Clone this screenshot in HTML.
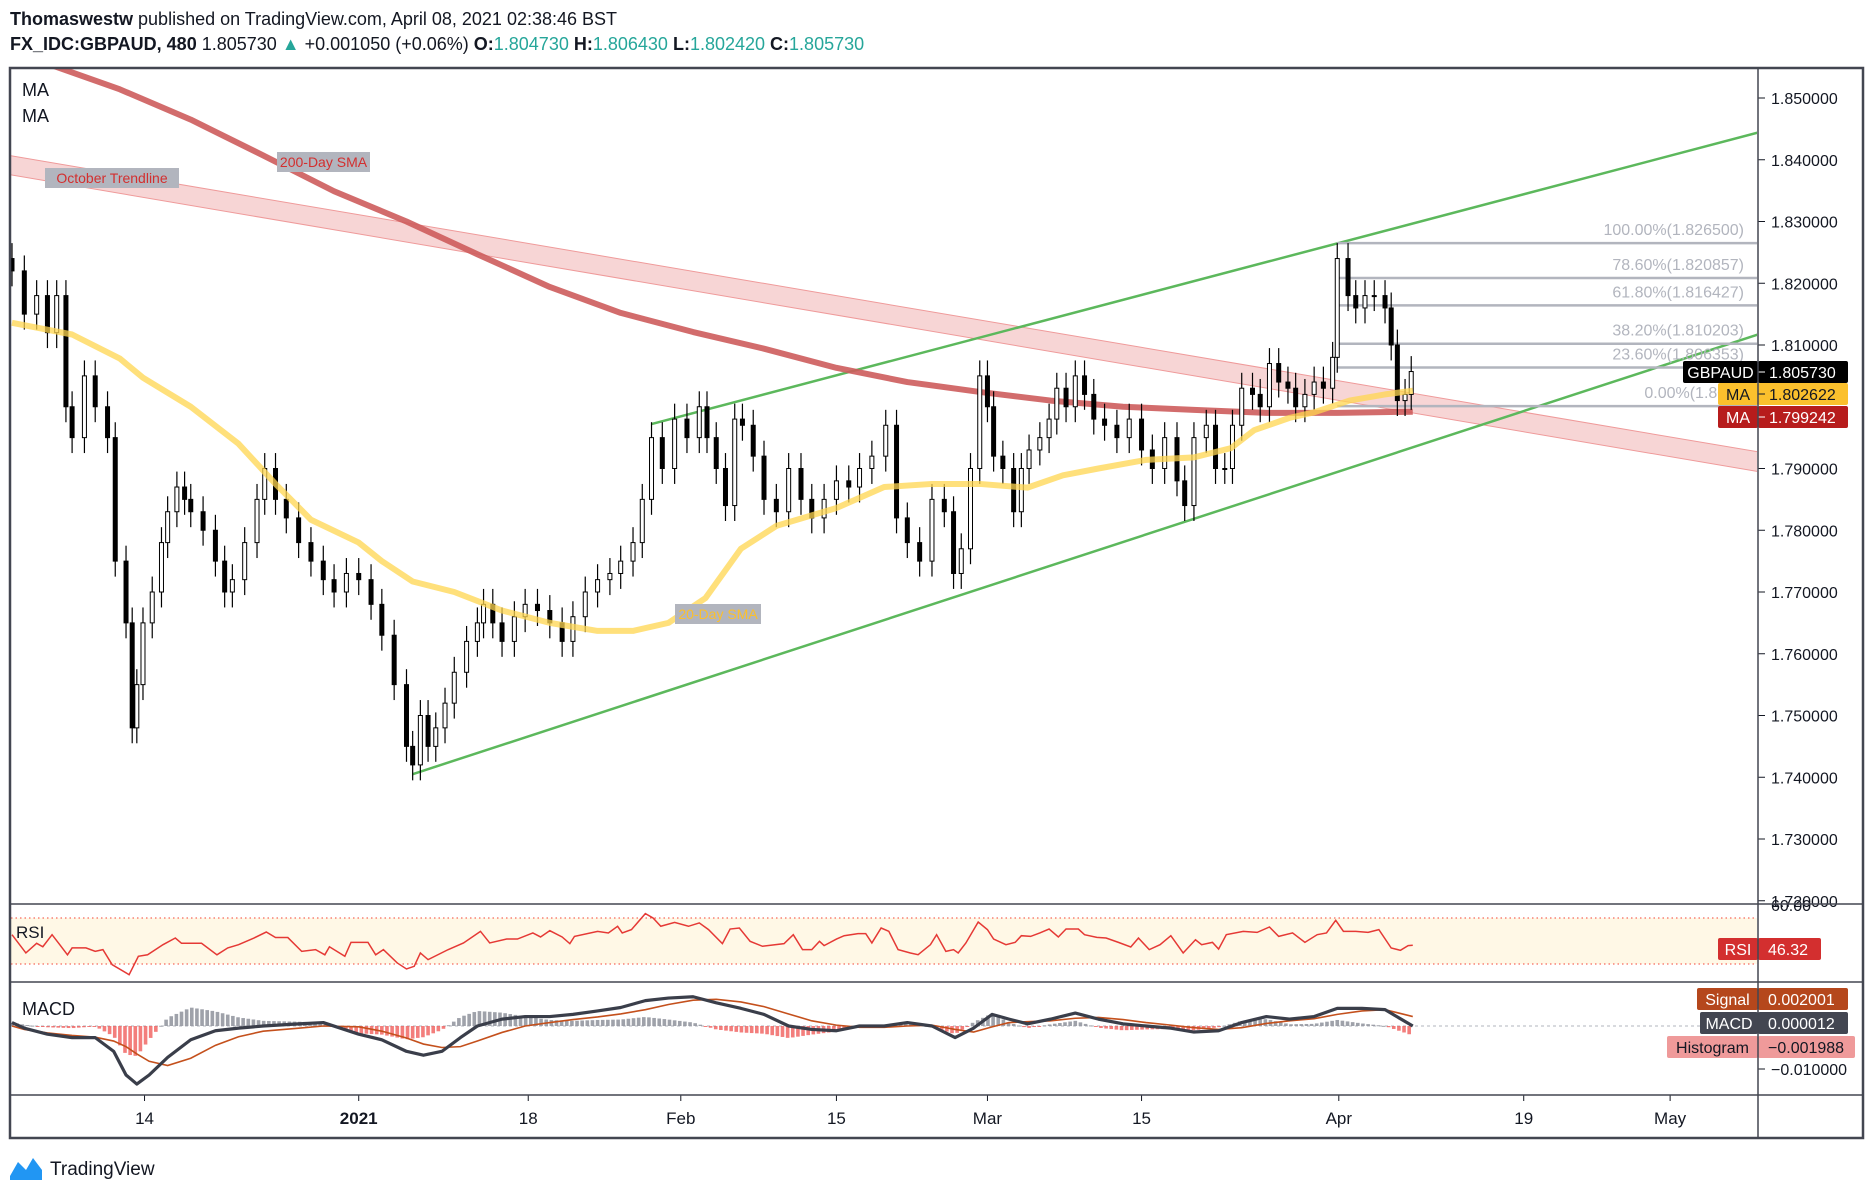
<!DOCTYPE html>
<html><head><meta charset="utf-8"><style>
html,body{margin:0;padding:0;background:#fff;}
svg{display:block;font-family:"Liberation Sans",sans-serif;}
</style></head><body>
<svg id="c" width="1873" height="1194" viewBox="0 0 1873 1194" xmlns="http://www.w3.org/2000/svg">
<rect x="0" y="0" width="1873" height="1194" fill="#fff"/>
<text x="10" y="25" font-size="18" fill="#131722"><tspan font-weight="bold">Thomaswestw</tspan> published on TradingView.com, April 08, 2021 02:38:46 BST</text>
<text x="10" y="50" font-size="18" fill="#131722"><tspan font-weight="bold">FX_IDC:GBPAUD, 480</tspan> 1.805730 <tspan fill="#26a69a">▲</tspan> +0.001050 (+0.06%) <tspan font-weight="bold">O:</tspan><tspan fill="#26a69a">1.804730</tspan> <tspan font-weight="bold">H:</tspan><tspan fill="#26a69a">1.806430</tspan> <tspan font-weight="bold">L:</tspan><tspan fill="#26a69a">1.802420</tspan> <tspan font-weight="bold">C:</tspan><tspan fill="#26a69a">1.805730</tspan></text>
<defs><clipPath id="mainClip"><rect x="11" y="69" width="1746" height="834"/></clipPath>
<clipPath id="rsiClip"><rect x="11" y="905" width="1746" height="76"/></clipPath>
<clipPath id="macdClip"><rect x="11" y="983" width="1746" height="111"/></clipPath></defs>
<g id="main" clip-path="url(#mainClip)"></g>
<g id="rsi" clip-path="url(#rsiClip)"></g>
<g id="macd" clip-path="url(#macdClip)"></g>
<g id="axes"></g>
<rect x="10" y="68" width="1853" height="1070" fill="none" stroke="#434651" stroke-width="2.5"/>
<line x1="1758" y1="68" x2="1758" y2="1138" stroke="#434651" stroke-width="1.5"/>
<line x1="10" y1="904" x2="1863" y2="904" stroke="#434651" stroke-width="1.5"/>
<line x1="10" y1="982" x2="1863" y2="982" stroke="#434651" stroke-width="1.5"/>
<line x1="10" y1="1095" x2="1863" y2="1095" stroke="#434651" stroke-width="1.5"/>
<text x="22" y="96" font-size="18" fill="#131722">MA</text>
<text x="22" y="122" font-size="18" fill="#131722">MA</text>
<text x="16" y="938" font-size="17" fill="#131722">RSI</text>
<text x="22" y="1015" font-size="18" fill="#131722">MACD</text>
<g>
<path d="M10 1176 L18 1162 L26 1170 L33 1158 L42 1170 L42 1180 L10 1180 Z" fill="#2196f3"/>
<text x="50" y="1175" font-size="19" fill="#131722">TradingView</text>
</g>
</svg>
<script>
// ---- data ----
const candleDay=[0,0.8,1.6,2.3,2.9,3.5,3.9,4.7,5.4,6.2,6.7,7.4,7.8,8.1,8.5,9.1,9.7,10.1,10.7,11.2,11.6,12.4,13.2,13.8,14.3,15.1,15.9,16.4,17.1,17.8,18.6,19.4,20.2,20.9,21.7,22.5,23.3,24.0,24.8,25.6,26.0,26.5,27.0,27.5,28.1,28.7,29.5,30.2,30.6,31.2,31.8,32.6,33.3,34.1,34.9,35.7,36.4,37.2,38.0,38.8,39.5,40.3,40.9,41.5,42.2,43.0,43.8,44.6,45.1,45.7,46.3,46.9,47.4,48.1,48.8,49.6,50.4,51.2,51.9,52.7,53.5,54.3,55.0,55.8,56.7,57.4,58.1,58.9,59.7,60.5,61.1,61.6,62.2,62.8,63.3,63.7,64.3,65.0,65.5,66.0,66.7,67.3,67.8,68.4,69.0,69.6,70.2,70.9,71.7,72.5,73.3,74.0,74.8,75.6,76.1,76.7,77.5,78.1,78.7,79.2,79.8,80.5,81.0,81.6,82.2,82.8,83.3,83.9,84.5,85.1,85.7,86.0,86.7,87.2,87.8,88.4,89.1,89.5,89.9,90.4,90.8];
const candleClose=[1.822,1.815,1.818,1.812,1.818,1.800,1.795,1.805,1.800,1.795,1.775,1.765,1.748,1.755,1.765,1.770,1.778,1.783,1.787,1.785,1.783,1.780,1.775,1.770,1.772,1.778,1.785,1.790,1.785,1.782,1.778,1.775,1.772,1.770,1.773,1.772,1.768,1.763,1.755,1.745,1.742,1.750,1.745,1.748,1.752,1.757,1.762,1.765,1.768,1.765,1.762,1.766,1.768,1.767,1.765,1.762,1.766,1.770,1.772,1.773,1.775,1.778,1.785,1.795,1.790,1.798,1.795,1.800,1.795,1.790,1.784,1.798,1.797,1.792,1.785,1.783,1.790,1.785,1.782,1.785,1.788,1.787,1.790,1.792,1.797,1.782,1.778,1.775,1.785,1.783,1.773,1.777,1.790,1.805,1.800,1.792,1.790,1.783,1.790,1.793,1.795,1.798,1.803,1.800,1.805,1.802,1.798,1.797,1.795,1.798,1.793,1.790,1.795,1.788,1.784,1.795,1.797,1.790,1.790,1.797,1.803,1.802,1.800,1.807,1.804,1.803,1.800,1.802,1.804,1.803,1.808,1.824,1.818,1.816,1.818,1.818,1.816,1.810,1.801,1.802,1.8057];
const sma20Day=[0,3.9,7.0,8.5,11.6,14.7,17.1,19.4,22.5,24.0,26.0,28.7,31.8,34.9,38.0,40.3,42.6,45.0,47.3,49.6,53.5,56.6,59.7,62.8,65.9,68.2,70.5,73.6,76.7,79.1,80.6,82.9,84.5,86.8,89.1,90.9];
const sma20Val=[1.8136,1.8117,1.8078,1.8047,1.800,1.794,1.7875,1.7817,1.778,1.775,1.7717,1.770,1.767,1.765,1.7637,1.7637,1.765,1.769,1.777,1.7807,1.7836,1.787,1.7875,1.7875,1.7869,1.7889,1.790,1.7914,1.7918,1.7933,1.7962,1.7982,1.7991,1.801,1.802,1.8026];
const sma200Day=[-2,2.7,7.0,11.6,16.3,20.9,25.6,30.2,34.9,39.5,44.2,48.8,53.5,58.1,62.8,67.4,72.1,76.7,81.4,86.0,90.9];
const sma200Val=[1.860,1.8552,1.8514,1.8465,1.8407,1.8349,1.830,1.8247,1.8194,1.8152,1.8121,1.8094,1.8063,1.804,1.8024,1.801,1.800,1.7995,1.799,1.799,1.7992];
const fibLevels=[1.8265,1.820857,1.816427,1.810203,1.806353,1.8001];
const fibLabels=["100.00%(1.826500)","78.60%(1.820857)","61.80%(1.816427)","38.20%(1.810203)","23.60%(1.806353)","0.00%(1.8001"];
const priceTicks=[1.85,1.84,1.83,1.82,1.81,1.79,1.78,1.77,1.76,1.75,1.74,1.73,1.72];
const timeTickDay=[8.6,22.5,33.5,43.4,53.5,63.3,73.3,86.1,98.1,107.6];
const timeTickLabel=["14","2021","18","Feb","15","Mar","15","Apr","19","May"];
const rsiDay=[0,0.9,1.6,2.0,2.6,3.1,3.6,3.9,4.8,5.4,5.9,6.5,7.6,8.2,8.8,9.8,10.6,11.0,12.3,13.3,14.0,14.7,15.7,16.5,17.1,17.9,18.8,19.7,20.3,20.6,21.6,22.0,23.1,23.6,24.1,25.0,25.6,26.1,26.5,27.0,28.3,29.3,30.4,31.0,32.1,32.8,33.8,34.3,34.9,35.7,36.2,36.5,38.0,38.7,39.3,39.6,40.2,41.1,41.6,42.1,43.0,43.9,44.6,45.2,46.1,46.6,47.2,47.9,48.7,50.1,50.7,51.3,51.9,52.4,52.7,53.5,54.0,54.9,55.4,55.8,56.4,56.9,57.5,58.3,58.8,59.6,60.0,60.6,61.1,61.4,61.9,62.7,63.3,63.7,64.5,65.1,65.5,66.1,66.7,67.3,67.9,68.4,69.2,69.6,70.4,71.0,71.8,72.6,73.1,73.8,74.5,75.2,76.0,76.8,77.2,77.9,78.3,78.8,79.9,80.8,81.6,82.2,83.1,83.9,84.7,85.3,85.9,86.4,87.2,88.0,88.7,89.5,90.1,90.6,90.9];
const rsiVal=[55.5,39.6,48,45,55.5,46.8,38,44,44,41,42.5,29.4,20.7,36.7,38,46.8,52.6,48,48,38,44,46.8,52.6,57.8,53,53,41,42.5,38,45,36.7,48.8,48.8,38,42.5,30.9,25.7,28,39.6,33.8,42.5,48.3,58.4,48.3,51.7,51.7,57,53.5,59,53.5,47.7,54,58.4,57,62.8,57,59.9,73.8,70,62.8,66.2,62.8,65.7,59.9,47.7,60.4,61.3,49.7,45.4,47.7,55.5,42.5,42.5,49.7,46,51.7,54.6,56.4,56.4,48.3,61.3,58.4,42.5,39.6,38.1,46.8,55.5,41,42.5,39.6,48.3,66.5,59.9,51.7,46.8,48.8,54.6,54,57,60.4,53.5,60.4,60.4,55.5,53.2,52.6,48.8,44.8,52.6,42.5,46.8,54.6,39.6,51.1,46.8,48.8,43,55.5,58.4,57.5,62.2,54,57,48.8,55.5,57,68,58.4,58.4,57.5,59.9,43.9,41.9,46,46.3];
const macdDay=[0,0.8,2.3,3.9,5.4,6.6,7.4,8.1,8.9,10.1,11.6,13.2,14.7,16.3,18.6,20.2,22.5,24.0,25.6,26.7,27.9,29.1,30.2,31.8,33.3,34.9,36.4,38.0,39.5,41.1,42.6,44.2,45.7,47.3,48.8,50.4,51.9,53.5,55.0,56.6,58.1,59.7,61.2,62.4,63.6,64.7,65.9,67.4,69.0,70.5,72.1,73.6,75.2,76.7,78.3,79.8,81.4,82.9,84.5,86.0,87.6,89.1,90.9];
const macdVal=[0.0008,-0.0005,-0.0019,-0.0027,-0.0027,-0.0059,-0.0114,-0.0135,-0.0114,-0.0073,-0.0032,-0.0011,-0.0005,0,0.0005,0.0008,-0.0019,-0.0032,-0.0059,-0.0068,-0.0059,-0.0027,0,0.0016,0.0022,0.0022,0.0027,0.0035,0.0043,0.0059,0.0065,0.0068,0.0054,0.0041,0.0027,0,-0.0008,-0.0011,0,0,0.0008,0,-0.0027,-0.0005,0.0027,0.0016,0.0005,0.0016,0.003,0.0016,0.0005,0,-0.0005,-0.0014,-0.0011,0.0008,0.0022,0.0016,0.0022,0.0041,0.0041,0.0038,0];
const signalVal=[0,-0.0008,-0.0016,-0.0022,-0.0026,-0.0035,-0.0048,-0.0065,-0.0082,-0.0092,-0.0075,-0.0045,-0.0025,-0.0012,-0.0005,0,-0.0002,-0.0012,-0.0028,-0.0042,-0.0050,-0.0048,-0.0035,-0.0015,0.0000,0.0008,0.0015,0.0021,0.0028,0.0038,0.0050,0.0060,0.0062,0.0056,0.0045,0.0028,0.0012,0.0002,-0.0003,-0.0003,0,0.0002,-0.0008,-0.0014,-0.0002,0.0008,0.0010,0.0012,0.0018,0.0020,0.0015,0.0008,0.0002,-0.0004,-0.0008,-0.0004,0.0006,0.0012,0.0017,0.0027,0.0035,0.0038,0.0022];

// ---- scales ----
const SVGNS="http://www.w3.org/2000/svg";
const xS=d=>12+d*15.41;
const yP=p=>98+(1.85-p)/0.01*61.75;
const yR=v=>964-(v-30)/40*46;
const yM=v=>1026-v/0.01*43;
function mk(parent,tag,attrs){const e=document.createElementNS(SVGNS,tag);for(const k in attrs)e.setAttribute(k,attrs[k]);parent.appendChild(e);return e;}
function interp(days,vals,d){if(d<=days[0])return vals[0];for(let i=1;i<days.length;i++){if(d<=days[i]){const t=(d-days[i-1])/(days[i]-days[i-1]);return vals[i-1]+t*(vals[i]-vals[i-1]);}}return vals[vals.length-1];}
const main=document.getElementById('main'),rsiG=document.getElementById('rsi'),macdG=document.getElementById('macd'),axes=document.getElementById('axes');

// trendline band
{const d0=-0.2,d1=113.3;
const band=mk(main,'polygon',{points:`${xS(d0)},${yP(1.8407)} ${xS(d1)},${yP(1.7927)} ${xS(d1)},${yP(1.7895)} ${xS(d0)},${yP(1.8376)}`,fill:'#e57373','fill-opacity':'0.3',stroke:'#ef9a9a','stroke-width':'1'});

}
// green channel
{const up=mk(main,'line',{x1:xS(41.5),y1:yP(1.7972),x2:xS(113.3),y2:yP(1.8444),stroke:'#5cb85c','stroke-width':'2.5'});


const lo=mk(main,'line',{x1:xS(26.0),y1:yP(1.7405),x2:xS(113.3),y2:yP(1.8117),stroke:'#5cb85c','stroke-width':'2.5'});

}
// fib
fibLevels.forEach((p,i)=>{
 const l=mk(main,'line',{x1:xS(86.0),y1:yP(p),x2:1758,y2:yP(p),stroke:'#b2b5be','stroke-width':'2.5'});
 
 
 const t=mk(main,'text',{x:1744,y:yP(p)-8,'text-anchor':'end','font-size':'16',fill:'#b2b5be'});
 t.textContent=fibLabels[i];
 
 
});
// 200 SMA
{const pts=sma200Day.map((d,i)=>xS(d)+','+yP(sma200Val[i])).join(' ');
const l=mk(main,'polyline',{points:pts,fill:'none',stroke:'#cd5c5c','stroke-width':'6','stroke-linejoin':'round','stroke-opacity':'0.9'});

}
// candles
candleClose.forEach((c,i)=>{
 const o=i>0?candleClose[i-1]:c+0.002;
 const x=xS(candleDay[i]);
 const hi=Math.max(o,c)+0.0025, lo=Math.min(o,c)-0.0025;
 const w=mk(main,'line',{x1:x,y1:yP(hi),x2:x,y2:yP(lo),stroke:'#000','stroke-width':'1.2'});
 
 
 const top=yP(Math.max(o,c)),h=Math.max(1,yP(Math.min(o,c))-top);
 const b=mk(main,'rect',{x:x-2,y:top,width:4,height:h,fill:c>=o?'#fff':'#000',stroke:'#000','stroke-width':'1'});
 
 
});
// 20 SMA
{const pts=sma20Day.map((d,i)=>xS(d)+','+yP(sma20Val[i])).join(' ');
const l=mk(main,'polyline',{points:pts,fill:'none',stroke:'#ffd54f','stroke-width':'6','stroke-linejoin':'round','stroke-opacity':'0.75'});

}
// annotation labels
function lbl(x,y,w,txt,col,name){const g=mk(main,'g',{});
 
 
 mk(g,'rect',{x:x,y:y,width:w,height:20,fill:'#b2b5be'});
 const t=mk(g,'text',{x:x+w/2,y:y+15,'text-anchor':'middle','font-size':'14',fill:col});t.textContent=txt;}
lbl(45,168,134,'October Trendline','#d32f2f','october-trendline-label');
lbl(277,152,93,'200-Day SMA','#d32f2f','sma-200-label');
lbl(675,604,86,'20-Day SMA','#fbc02d','sma-20-label');

// price axis
priceTicks.forEach(p=>{
 mk(axes,'line',{x1:1758,y1:yP(p),x2:1765,y2:yP(p),stroke:'#131722','stroke-width':'1'});
 const t=mk(axes,'text',{x:1771,y:yP(p)+6,'font-size':'16',fill:'#131722'});
 t.textContent=p.toFixed(6);
 
 
});
function axLabel(y,lw,ltxt,vtxt,bg,fg,name){const g=mk(axes,'g',{});
 
 
 mk(g,'rect',{x:1758-lw,y:y,width:lw,height:22,rx:2,fill:bg});
 mk(g,'rect',{x:1758,y:y,width:90,height:22,rx:2,fill:bg});
 mk(g,'line',{x1:1758,y1:y+11,x2:1765,y2:y+11,stroke:fg});
 const a=mk(g,'text',{x:1758-lw/2,y:y+17,'text-anchor':'middle','font-size':'16',fill:fg});a.textContent=ltxt;
 const b=mk(g,'text',{x:1769,y:y+17,'font-size':'16',fill:fg});b.textContent=vtxt;}
axLabel(361,75,'GBPAUD','1.805730','#000','#fff','last-price-label');
axLabel(383,40,'MA','1.802622','#fbc02d','#131722','sma-20-price-label');
axLabel(406,40,'MA','1.799242','#b71c1c','#fff','sma-200-price-label');

// time axis
timeTickDay.forEach((d,i)=>{
 mk(axes,'line',{x1:xS(d),y1:1095,x2:xS(d),y2:1101,stroke:'#131722'});
 const t=mk(axes,'text',{x:xS(d),y:1124,'text-anchor':'middle','font-size':'17',fill:'#131722','font-weight':timeTickLabel[i]==='2021'?'bold':'normal'});
 t.textContent=timeTickLabel[i];
 
 
});

// RSI
mk(rsiG,'rect',{x:11,y:yR(70),width:1746,height:yR(30)-yR(70),fill:'#fff8e6'});
mk(rsiG,'line',{x1:11,y1:yR(70),x2:1757,y2:yR(70),stroke:'#f44336','stroke-dasharray':'1.5 3','stroke-width':'1'});
mk(rsiG,'line',{x1:11,y1:yR(30),x2:1757,y2:yR(30),stroke:'#f44336','stroke-dasharray':'1.5 3','stroke-width':'1'});
{const l=mk(rsiG,'polyline',{points:rsiDay.map((d,i)=>xS(d)+','+yR(rsiVal[i])).join(' '),fill:'none',stroke:'#e53935','stroke-width':'1.5'});

}
{const t=mk(axes,'text',{x:1771,y:911,'font-size':'16',fill:'#131722'});t.textContent='60.00';
const g=mk(axes,'g',{});


mk(g,'rect',{x:1718,y:938,width:40,height:22,rx:2,fill:'#d32f2f'});
mk(g,'rect',{x:1758,y:938,width:63,height:22,rx:2,fill:'#d32f2f'});
const a=mk(g,'text',{x:1738,y:955,'text-anchor':'middle','font-size':'16',fill:'#fff'});a.textContent='RSI';
const b=mk(g,'text',{x:1768,y:955,'font-size':'16',fill:'#fff'});b.textContent='46.32';}

// MACD
mk(macdG,'line',{x1:11,y1:yM(0),x2:1757,y2:yM(0),stroke:'#b2b5be','stroke-dasharray':'3 3','stroke-width':'1'});
const lastDay=macdDay[macdDay.length-1];
for(let d=0; d<=lastDay+0.01; d+=1/3){
 const h=interp(macdDay,macdVal,d)-interp(macdDay,signalVal,d);
 const x=xS(d);
 const y0=yM(0),y1=yM(h);
 const r=mk(macdG,'rect',{x:x-1.8,y:Math.min(y0,y1),width:3.6,height:Math.max(1,Math.abs(y1-y0)),fill:h>=0?'#9598a1':'#ef5350','fill-opacity':h>=0?'0.9':'0.75'});
 
 
}
{const s=mk(macdG,'polyline',{points:macdDay.map((d,i)=>xS(d)+','+yM(signalVal[i])).join(' '),fill:'none',stroke:'#c4501c','stroke-width':'1.6'});


const m=mk(macdG,'polyline',{points:macdDay.map((d,i)=>xS(d)+','+yM(macdVal[i])).join(' '),fill:'none',stroke:'#3a3e4a','stroke-width':'3.2','stroke-linejoin':'round'});

}
function mLabel(y,lx,ltxt,vtxt,bg,fg,name,vw){const g=mk(axes,'g',{});
 
 
 mk(g,'rect',{x:lx,y:y,width:1758-lx,height:22,rx:2,fill:bg});
 mk(g,'rect',{x:1758,y:y,width:vw,height:22,rx:2,fill:bg});
 const a=mk(g,'text',{x:(lx+1758)/2,y:y+17,'text-anchor':'middle','font-size':'16',fill:fg});a.textContent=ltxt;
 const b=mk(g,'text',{x:1768,y:y+17,'font-size':'16',fill:fg});b.textContent=vtxt;}
mLabel(988,1697,'Signal','0.002001','#b5471c','#fff','macd-signal-label',90);
mLabel(1012,1700,'MACD','0.000012','#434651','#fff','macd-value-label',90);
mLabel(1036,1667,'Histogram','−0.001988','#ef9a9a','#131722','macd-histogram-label',97);
{mk(axes,'line',{x1:1758,y1:yM(-0.01),x2:1765,y2:yM(-0.01),stroke:'#131722'});
const t=mk(axes,'text',{x:1771,y:yM(-0.01)+6,'font-size':'16',fill:'#131722'});t.textContent='−0.010000';}
</script>
</body></html>
